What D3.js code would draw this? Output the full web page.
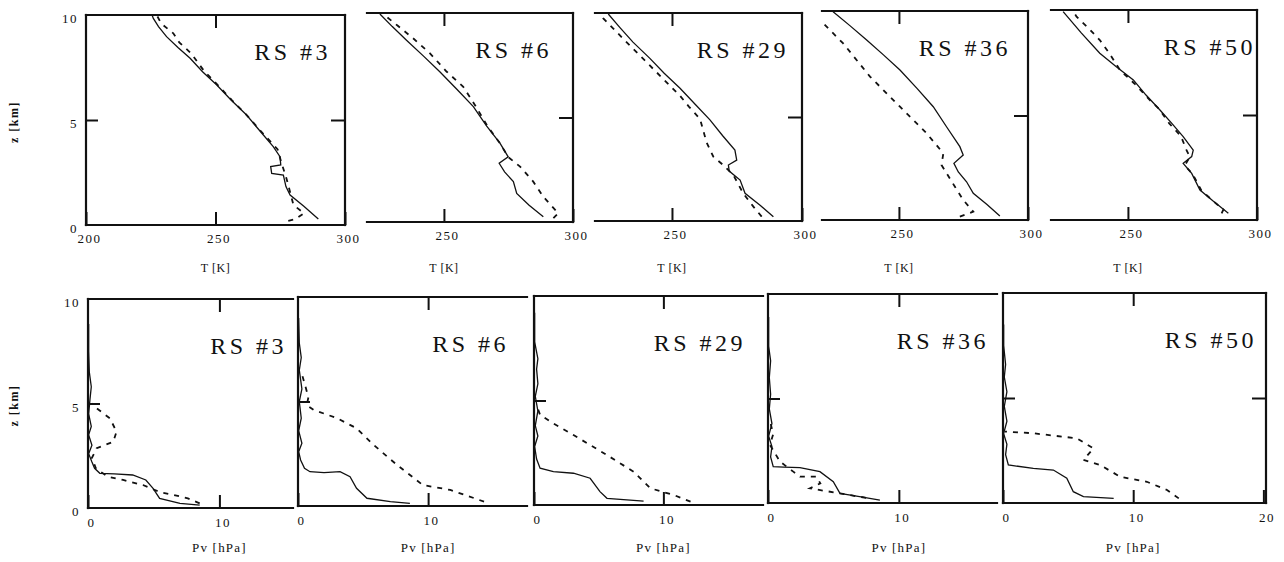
<!DOCTYPE html>
<html>
<head>
<meta charset="utf-8">
<script src="https://cdn.jsdelivr.net/npm/d3@7"></script>
<style>
  body { margin: 0; background: #fff; }
  svg text { font-family: "Liberation Serif", "Times New Roman", "DejaVu Serif", serif !important; fill: #111; }
  .tick text { font-size: 13px; letter-spacing: 1.5px; }
  .tick line { stroke: #111; stroke-width: 2; }
  .frame { stroke: #111; stroke-width: 2.2; fill: none; }
  .solid { fill: none; stroke: #111; stroke-width: 1.3; }
  .dashed { fill: none; stroke: #111; stroke-width: 1.8; stroke-dasharray: 5,6; }
</style>
</head>
<body>
<svg id="chart"></svg>
<script>
// ---- data: profiles as [value, z(km)] ----
const stations = ['RS #3', 'RS #6', 'RS #29', 'RS #36', 'RS #50'];
const tempTicks = [200, 250, 300];
const pvTicks = [0, 10, 20];
const heightTicks = [0, 5, 10];

// temperature T [K], solid = measured, dashed = model
const tempRs3 = [[289.7,0.29],[284,0.9],[278.8,1.43],[277.2,1.83],[276.2,2.38],[271.7,2.46],[271.3,2.78],[275.2,2.86],[274.9,3.25],[272.3,3.73],[267,4.5],[262,5.24],[256,5.95],[250.5,6.67],[245,7.3],[240.2,7.94],[235.5,8.45],[231.1,8.97],[228,9.45],[226,9.84],[225.5,10]];
const tempRs3Dash = [[278.1,0.2],[280.7,0.27],[284.2,0.56],[280.1,0.95],[278.1,1.9],[277.2,2.3],[275.5,2.94],[274,3.6],[267.3,4.5],[262.3,5.2],[256.3,5.95],[250.8,6.67],[245.5,7.35],[240.6,8.17],[236,8.7],[233.7,9.13],[229,9.6],[227.5,9.95]];

const tempRs6 = [[288.5,0.25],[283,0.8],[278.2,1.37],[276.9,1.93],[273.5,2.4],[271.4,2.81],[274.9,3.12],[271.7,3.77],[266.5,4.6],[261.4,5.52],[255,6.35],[248.4,7.19],[242,7.95],[235.5,8.7],[230,9.35],[225.2,9.95]];
const tempRs6Dash = [[292.4,0.18],[294.3,0.42],[288.5,1.21],[284.6,1.93],[279.5,2.65],[275,3.1],[271.5,3.8],[267,4.56],[262.5,5.5],[257.5,6.47],[251,7.2],[244.6,8.07],[238,8.8],[232,9.4],[227.8,9.82],[226.5,10]];

const tempRs29 = [[289,0.2],[284,0.75],[278.1,1.33],[276.2,1.97],[272,2.4],[271.7,2.69],[274.9,2.93],[274.2,3.41],[269.5,4.1],[264.6,4.86],[259,5.6],[253.1,6.38],[247,7.1],[241.5,7.82],[235,8.6],[230,9.3],[225.5,9.95]];
const tempRs29Dash = [[284.5,0.21],[281.3,0.69],[277.4,1.33],[273.6,2.21],[269.7,2.69],[265.9,3.09],[263.3,3.78],[260.8,4.9],[256.5,5.5],[253.1,6.02],[242.8,7.31],[232.6,8.59],[223.6,9.74],[222.5,10]];

const tempRs36 = [[289.1,0.19],[284,0.75],[278.8,1.28],[276.2,1.83],[273,2.3],[271.3,2.71],[274.9,3.11],[273.6,3.51],[268.5,4.45],[263.3,5.42],[257,6.3],[250.4,7.18],[244,7.9],[237.5,8.61],[231,9.3],[224.5,9.97]];
const tempRs36Dash = [[273.6,0.16],[278.8,0.4],[274.9,0.96],[271.7,1.59],[266.5,2.63],[267.2,3.19],[260.7,4.15],[250.4,5.42],[238.8,6.86],[228.4,8.45],[220.7,9.41],[217,10]];

const tempRs50 = [[288.9,0.32],[283,0.9],[277.9,1.43],[274.7,2.22],[271.4,2.7],[274.7,3.02],[275.3,3.33],[271.4,3.97],[267,4.6],[262.4,5.24],[257,5.95],[252.1,6.67],[245.5,7.3],[239.1,7.94],[232,8.9],[224.9,9.92]];
const tempRs50Dash = [[286.3,0.32],[287,0.5],[283.5,0.85],[278.5,1.4],[275,2.2],[272,2.6],[274,3.0],[272.7,3.33],[270.5,4.0],[266,4.6],[262,5.3],[258.5,5.71],[252.5,6.5],[246.9,7.14],[243,7.9],[239.1,8.57],[235,9.1],[230.1,9.68],[228.5,10]];

// vapour pressure Pv [hPa]
const pvRs3 = [[8.5,0.14],[7,0.22],[5.45,0.46],[4.95,0.94],[4.4,1.34],[3.4,1.58],[2,1.63],[0.9,1.66],[0.5,1.9],[0.3,2.2],[0.05,2.6],[0.3,3.0],[0.05,3.5],[0.25,3.9],[0.05,4.5],[0.15,5.2],[0.25,5.8],[0.1,6.5],[0.05,7.5],[0.05,8.8]];
const pvRs3Dash = [[8.5,0.22],[7.6,0.46],[6.36,0.65],[5.5,0.75],[4.18,1.1],[2.67,1.34],[1.5,1.5],[0.6,1.9],[0.3,2.4],[0.66,2.86],[1.92,3.17],[2.17,3.65],[1.67,4.29],[0.66,4.77],[0.3,5.0]];

const pvRs6 = [[8.6,0.13],[7.1,0.21],[5.3,0.37],[4.5,0.85],[4.0,1.4],[3.23,1.64],[2.0,1.6],[0.92,1.64],[0.5,1.8],[0.2,2.2],[0.05,2.6],[0.3,3.0],[0.05,3.6],[0.25,4.2],[0.1,5],[0.3,5.6],[0.1,6.5],[0.25,7.1],[0.1,7.8],[0.05,9.0]];
const pvRs6Dash = [[14.3,0.21],[11.7,0.77],[9.6,1.0],[7.6,1.97],[5.8,2.93],[4.5,3.72],[3.0,4.2],[1.2,4.6],[0.67,4.83],[0.8,5.2],[0.54,5.79],[0.3,6.3]];

const pvRs29 = [[8.47,0.19],[5.64,0.32],[5.1,0.64],[4.34,1.28],[3.05,1.52],[1.5,1.6],[0.47,1.76],[0.2,2.2],[0.05,2.8],[0.3,3.3],[0.1,3.8],[0.3,4.5],[0.1,5.2],[0.3,5.8],[0.2,6.5],[0.3,7.0],[0.05,7.8],[0.05,9.2]];
const pvRs29Dash = [[12.1,0.16],[10.8,0.48],[8.99,0.8],[7.7,1.59],[5.64,2.39],[3.05,3.35],[1.5,3.9],[0.47,4.31],[0.3,4.6]];

const pvRs36 = [[8.55,0.14],[7.0,0.3],[5.5,0.46],[4.99,1.02],[3.97,1.5],[2.44,1.69],[1.2,1.72],[0.4,1.74],[0.2,2.2],[0.3,2.7],[0.05,3.2],[0.3,3.8],[0.1,4.5],[0.2,5.2],[0.1,6],[0.2,6.8],[0.05,7.5],[0.05,8.9]];
const pvRs36Dash = [[7.5,0.25],[6.5,0.35],[5.5,0.46],[3.2,0.7],[4.0,0.94],[3.7,1.26],[2.44,1.26],[1.93,1.5],[0.92,1.98],[0.15,2.78],[0.4,3.3],[0.2,3.8]];

const pvRs50 = [[8.5,0.22],[6.18,0.3],[5.4,0.54],[4.9,1.18],[3.87,1.57],[2.33,1.65],[0.41,1.81],[0.2,2.3],[0.3,2.8],[0.05,3.3],[0.3,3.9],[0.1,4.6],[0.3,5.3],[0.1,6.0],[0.2,6.6],[0.05,7.5],[0.05,8.5]];
const pvRs50Dash = [[13.5,0.22],[12.6,0.62],[11.05,1.01],[9.0,1.25],[7.46,1.81],[6.18,2.05],[6.95,2.6],[5.67,3.08],[2.33,3.32],[0.15,3.4]];

const tempSeries = [[tempRs3, tempRs3Dash], [tempRs6, tempRs6Dash], [tempRs29, tempRs29Dash], [tempRs36, tempRs36Dash], [tempRs50, tempRs50Dash]];
const pvSeries = [[pvRs3, pvRs3Dash], [pvRs6, pvRs6Dash], [pvRs29, pvRs29Dash], [pvRs36, pvRs36Dash], [pvRs50, pvRs50Dash]];

// ---- layout: panels overlap, so the left/right part of some frames is hidden ----
const topLayout = [
  {left: 86,   right: 345,  top: 15, bottom: 225, xMin: 200,   leftEdge: true,  rightEdge: true, titleDx: 14},
  {left: 367,  right: 573,  top: 13, bottom: 222, xMin: 220.2, leftEdge: false, rightEdge: true, titleDx: 21},
  {left: 595,  right: 802,  top: 13, bottom: 221, xMin: 220.4, leftEdge: false, rightEdge: true, titleDx: 13},
  {left: 822,  right: 1028, top: 11, bottom: 220, xMin: 220.2, leftEdge: false, rightEdge: true, titleDx: 17},
  {left: 1051, right: 1257, top: 10, bottom: 220, xMin: 220.2, leftEdge: false, rightEdge: true, titleDx: 1}
];
const bottomLayout = [
  {left: 88,   right: 293,  top: 299, bottom: 508, xMax: 15.6, leftEdge: true, rightEdge: false, titleDx: 6},
  {left: 298,  right: 527,  top: 297, bottom: 506, xMax: 17.6, leftEdge: true, rightEdge: false, titleDx: 18},
  {left: 534,  right: 763,  top: 296, bottom: 505, xMax: 17.7, leftEdge: true, rightEdge: false, titleDx: 17},
  {left: 768,  right: 997,  top: 294, bottom: 503, xMax: 17.5, leftEdge: true, rightEdge: false, titleDx: 8},
  {left: 1003, right: 1266, top: 293, bottom: 503, xMax: 20.2, leftEdge: true, rightEdge: true,  titleDx: 9}
];

const serif = '"Liberation Serif", "Times New Roman", "DejaVu Serif", serif';
const svg = d3.select('#chart')
  .attr('width', 1284)
  .attr('height', 562)
  .attr('font-family', serif);

class ProfilePanel {

  constructor(_config, _solid, _dashed) {
    this.config = _config;
    this.solid = _solid;
    this.dashed = _dashed;
    this.initVis();
  }

  initVis() {
    let vis = this;
    const c = vis.config;

    vis.width = c.right - c.left;
    vis.height = c.bottom - c.top;

    vis.xScale = d3.scaleLinear().domain(c.xDomain).range([0, vis.width]);
    vis.yScale = d3.scaleLinear().domain([0, 10]).range([vis.height, 0]);

    vis.chart = svg.append('g')
      .attr('transform', `translate(${c.left},${c.top})`);

    vis.chart.append('clipPath')
      .attr('id', `clip-${c.id}`)
      .append('rect')
      .attr('width', vis.width)
      .attr('height', vis.height);

    vis.renderVis();
  }

  renderVis() {
    let vis = this;
    const c = vis.config;

    const line = d3.line()
      .x(d => vis.xScale(d[0]))
      .y(d => vis.yScale(d[1]));

    const lines = vis.chart.append('g').attr('clip-path', `url(#clip-${c.id})`);
    lines.append('path').datum(vis.dashed).attr('class', 'dashed').attr('d', line);
    lines.append('path').datum(vis.solid).attr('class', 'solid').attr('d', line);

    // inward ticks, the domain line is replaced by the frame
    const xTicks = c.xTicks.filter(v => v >= c.xDomain[0] && v <= c.xDomain[1]);
    vis.chart.append('g')
      .attr('transform', `translate(0,${vis.height})`)
      .call(d3.axisBottom(vis.xScale).tickValues(xTicks).tickSize(-13).tickPadding(c.xPad).tickFormat(d3.format('d')))
      .call(g => g.select('.domain').remove())
      .call(g => g.attr('font-family', serif).selectAll('.tick text').attr('dx', 3));

    vis.chart.append('g')
      .call(d3.axisTop(vis.xScale).tickValues([c.midTick]).tickSize(-13).tickFormat(''))
      .call(g => g.select('.domain').remove());

    if (c.leftEdge) {
      vis.chart.append('g')
        .call(d3.axisLeft(vis.yScale).tickValues([5]).tickSize(-12).tickFormat(''))
        .call(g => g.select('.domain').remove());
    }
    if (c.rightEdge) {
      vis.chart.append('g')
        .attr('transform', `translate(${vis.width},0)`)
        .call(d3.axisRight(vis.yScale).tickValues([5]).tickSize(-14).tickFormat(''))
        .call(g => g.select('.domain').remove());
    }
    if (c.yLabels) {
      vis.chart.append('g')
        .call(d3.axisLeft(vis.yScale).tickValues(heightTicks).tickSize(0).tickPadding(8))
        .call(g => g.select('.domain').remove())
        .call(g => g.attr('font-family', serif).selectAll('.tick text').attr('dy', '0.6em'));
      vis.chart.append('text')
        .attr('transform', `translate(${14 - c.left},${vis.height / 2 + 2}) rotate(-90)`)
        .attr('dy', '0.35em')
        .attr('text-anchor', 'middle')
        .style('font-size', '12px')
        .style('font-weight', 'bold')
        .style('letter-spacing', '1.5px')
        .text('z [km]');
    }

    // frame (only the visible sides)
    const w = vis.width, h = vis.height;
    const sides = [[0, 0, w, 0], [0, h, w, h]];
    if (c.leftEdge) sides.push([0, 0, 0, h]);
    if (c.rightEdge) sides.push([w, 0, w, h]);
    vis.chart.selectAll('.frame')
      .data(sides)
      .join('line')
      .attr('class', 'frame')
      .attr('x1', d => d[0]).attr('y1', d => d[1])
      .attr('x2', d => d[2]).attr('y2', d => d[3])
      .attr('stroke-linecap', 'square');

    vis.chart.append('text')
      .attr('x', w - c.titleDx)
      .attr('y', c.titleY)
      .attr('text-anchor', 'end')
      .style('font-size', '24px')
      .style('letter-spacing', '3.5px')
      .text(c.title);

    vis.chart.append('text')
      .attr('x', vis.xScale(c.midTick))
      .attr('y', c.labelY)
      .attr('text-anchor', 'middle')
      .style('font-size', c.labelSize)
      .style('letter-spacing', c.labelSpacing)
      .text(c.xLabel);
  }
}

stations.forEach((name, i) => {
  const t = topLayout[i];
  new ProfilePanel({
    ...t, id: `t${i}`, title: name, titleY: 45,
    xDomain: [t.xMin, 300], xTicks: tempTicks, midTick: 250, xPad: 9,
    xLabel: 'T [K]', labelY: 272 - t.top, labelSize: '12px', labelSpacing: '0.5px',
    yLabels: i === 0
  }, tempSeries[i][0], tempSeries[i][1]);

  const b = bottomLayout[i];
  new ProfilePanel({
    ...b, id: `b${i}`, title: name, titleY: 55,
    xDomain: [0, b.xMax], xTicks: pvTicks, midTick: 10, xPad: 10,
    xLabel: 'Pv [hPa]', labelY: 552 - b.top, labelSize: '13px', labelSpacing: '1.2px',
    yLabels: i === 0
  }, pvSeries[i][0], pvSeries[i][1]);
});
</script>
</body>
</html>
